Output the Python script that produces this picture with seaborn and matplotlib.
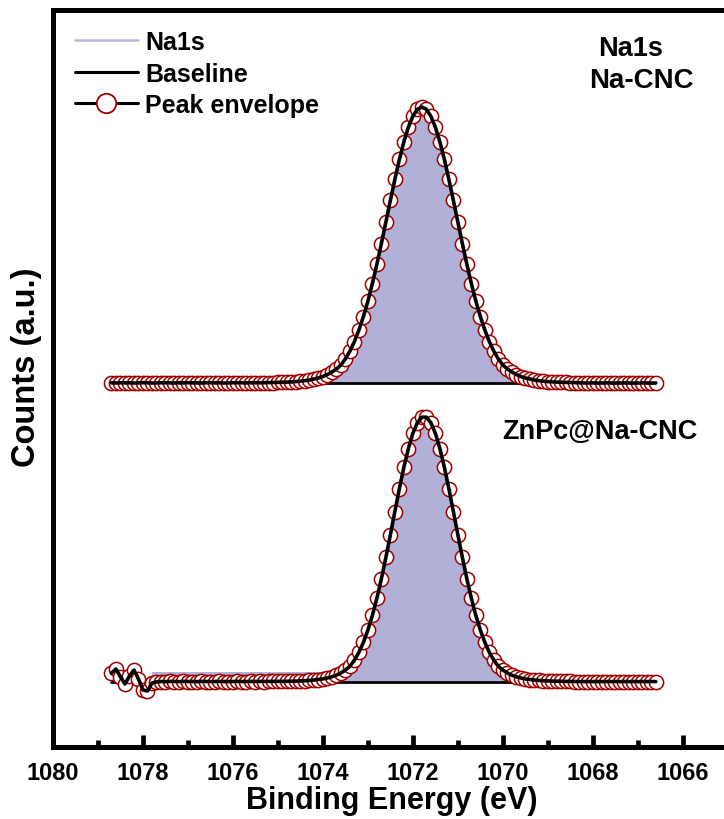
import matplotlib
matplotlib.use("Agg")
import matplotlib.pyplot as plt
from matplotlib.lines import Line2D
import seaborn as sns
import numpy as np
import pandas as pd

# ---------------- data ----------------
energy = [1078.7, 1078.6, 1078.5, 1078.4, 1078.3, 1078.2, 1078.1, 1078.0, 1077.9, 1077.8,
          1077.7, 1077.6, 1077.5, 1077.4, 1077.3, 1077.2, 1077.1, 1077.0, 1076.9, 1076.8,
          1076.7, 1076.6, 1076.5, 1076.4, 1076.3, 1076.2, 1076.1, 1076.0, 1075.9, 1075.8,
          1075.7, 1075.6, 1075.5, 1075.4, 1075.3, 1075.2, 1075.1, 1075.0, 1074.9, 1074.8,
          1074.7, 1074.6, 1074.5, 1074.4, 1074.3, 1074.2, 1074.1, 1074.0, 1073.9, 1073.8,
          1073.7, 1073.6, 1073.5, 1073.4, 1073.3, 1073.2, 1073.1, 1073.0, 1072.9, 1072.8,
          1072.7, 1072.6, 1072.5, 1072.4, 1072.3, 1072.2, 1072.1, 1072.0, 1071.9, 1071.8,
          1071.7, 1071.6, 1071.5, 1071.4, 1071.3, 1071.2, 1071.1, 1071.0, 1070.9, 1070.8,
          1070.7, 1070.6, 1070.5, 1070.4, 1070.3, 1070.2, 1070.1, 1070.0, 1069.9, 1069.8,
          1069.7, 1069.6, 1069.5, 1069.4, 1069.3, 1069.2, 1069.1, 1069.0, 1068.9, 1068.8,
          1068.7, 1068.6, 1068.5, 1068.4, 1068.3, 1068.2, 1068.1, 1068.0, 1067.9, 1067.8,
          1067.7, 1067.6, 1067.5, 1067.4, 1067.3, 1067.2, 1067.1, 1067.0, 1066.9, 1066.8,
          1066.7, 1066.6]

# Na-CNC (upper spectrum, stacked, a.u.)
na_cnc = [364.2, 364.0, 364.3, 364.1, 364.2, 364.0, 364.1, 364.3, 364.2, 364.0,
          364.1, 364.2, 364.3, 364.1, 364.0, 364.2, 364.1, 364.3, 364.2, 364.1,
          364.0, 364.2, 364.3, 364.1, 364.2, 364.0, 364.1, 364.2, 364.3, 364.2,
          364.1, 364.2, 364.3, 364.2, 364.3,
          364.4, 364.5, 364.6, 364.75, 364.9, 365.1, 365.4, 365.8, 366.3, 367.0,
          368.0, 369.0, 370.5, 372.5, 375.0, 378.0, 382.0, 388.1, 395.8, 405.4,
          416.9, 430.4, 445.9, 463.5, 482.8, 503.4, 524.9, 546.6, 567.7, 587.6,
          605.2, 619.8, 630.8, 637.7, 640.0,
          637.7, 630.8, 619.8, 605.2, 587.6, 567.7, 546.6, 524.9, 503.4, 482.8,
          463.5, 445.9, 430.4, 416.9, 405.4, 395.8, 388.1, 382.0, 378.0, 375.0,
          372.5, 370.5, 369.0, 368.0, 367.0, 366.3, 365.8, 365.4, 365.1, 364.9,
          364.75, 364.6, 364.5, 364.4,
          364.2, 364.1, 364.0, 364.1, 363.9, 364.0, 364.1, 364.0, 363.9, 364.0,
          364.1, 364.0, 363.9, 364.0, 364.1, 364.0, 363.9, 364.0]
na_cnc_base = 364.0

# ZnPc@Na-CNC (lower spectrum)
znpc = [74.0, 78.0, 70.0, 63.0, 71.0, 77.0, 68.0, 57.0, 56.0, 64.0, 65.0,
        65.5, 65.4, 65.6, 65.5, 65.4, 65.6, 65.5, 65.5, 65.4, 65.6,
        65.5, 65.4, 65.5, 65.6, 65.5, 65.4, 65.5, 65.6, 65.5, 65.5,
        65.6, 65.5, 65.6, 65.5, 65.6, 65.6, 65.7, 65.6, 65.7, 65.8, 65.9,
        66.1, 66.3, 66.6, 67.0, 67.5, 68.1, 69.0, 70.2, 71.8, 74.0,
        77.0, 80.7, 86.8, 94.6, 104.6, 116.9, 131.6, 148.8, 168.2, 189.6,
        212.3, 235.5, 258.4, 279.7, 298.5, 313.7, 324.3, 329.8,
        329.8, 324.3, 313.7, 298.5, 279.7, 258.4, 235.5, 212.3, 189.6, 168.2,
        148.8, 131.6, 116.9, 104.6, 94.6, 86.8, 80.7, 77.0, 74.0, 71.8,
        70.2, 69.0, 68.1, 67.5, 67.0, 66.6, 66.3, 66.1,
        65.9, 65.8, 65.7, 65.6, 65.6, 65.5, 65.5, 65.4, 65.5, 65.4,
        65.5, 65.4, 65.5, 65.4, 65.5, 65.4, 65.5, 65.4, 65.5, 65.4,
        65.5, 65.4, 65.5, 65.4]
znpc_base = 65.5
# Na1s component level over the left background of the lower spectrum
znpc_comp_left = 75.5
znpc_comp_range = (1077.85, 1073.9)

fit_window = (1074.8, 1068.6)   # region of the Na1s component fill

xticks_major = [1080, 1078, 1076, 1074, 1072, 1070, 1068, 1066]
xticks_minor = [1079, 1077, 1075, 1073, 1071, 1069, 1067, 1065]
legend_labels = ["Na1s", "Baseline", "Peak envelope"]

# ---------------- styling ----------------
sns.set_theme(style="white")
plt.rcParams["font.family"] = ["Liberation Sans", "DejaVu Sans"]
plt.rcParams["font.weight"] = "bold"
plt.rcParams["text.color"] = "black"
plt.rcParams["axes.labelcolor"] = "black"
plt.rcParams["xtick.color"] = "black"
plt.rcParams["xtick.labelcolor"] = "black"

fill_color = "#b1b1d8"
legend_fill_color = "#b8b8de"
marker_edge = "#9e0000"

W, H = 724, 820
fig = plt.figure(figsize=(W / 100, H / 100), dpi=100)
ax = fig.add_axes([53 / W, (H - 748) / H, 677 / W, 737 / H])

df = pd.DataFrame({"energy": energy, "na_cnc": na_cnc, "znpc": znpc})
E = df["energy"].to_numpy()
mask = (E <= fit_window[0]) & (E >= fit_window[1])

# thin component strip above the lower spectrum's left background
left_mask = (E <= znpc_comp_range[0]) & (E >= znpc_comp_range[1])
ax.fill_between(E, znpc_base, znpc_comp_left, where=left_mask,
                color=fill_color, lw=0, zorder=1)

for col, base in (("na_cnc", na_cnc_base), ("znpc", znpc_base)):
    y = df[col].to_numpy()
    ax.fill_between(E, y, base, where=mask, color=fill_color, lw=0, zorder=1)
    sns.lineplot(x=[energy[0], energy[-1]], y=[base, base], ax=ax, color="black",
                 lw=2, zorder=2, sort=False)
    sns.scatterplot(data=df, x="energy", y=col, ax=ax, marker="o", s=105,
                    facecolor="white", edgecolor=marker_edge, linewidth=1.1,
                    zorder=3, legend=False)
    sns.lineplot(data=df, x="energy", y=col, ax=ax, color="black", lw=2.6,
                 zorder=4, sort=False, legend=False)

ax.set_xlim(1080, 1064.95)
ax.set_ylim(0, 737)
ax.set_xticks(xticks_major)
ax.set_xticks(xticks_minor, minor=True)
ax.set_yticks([])
ax.tick_params(axis="x", which="major", direction="in", length=8.5, width=3.4,
               color="black", labelcolor="black", labelsize=17, pad=10,
               bottom=True)
ax.tick_params(axis="x", which="minor", direction="in", length=5, width=3.4,
               color="black", bottom=True)
for lab in ax.get_xticklabels():
    lab.set_fontweight("bold")
for sp in ax.spines.values():
    sp.set_linewidth(3.6)
    sp.set_color("black")

ax.set_xlabel("Binding Energy (eV)", fontsize=22, fontweight="bold", labelpad=1,
              color="black")
ax.set_ylabel("Counts (a.u.)", fontsize=23.5, fontweight="bold", color="black")
ax.yaxis.set_label_coords(-(53 - 42) / 677, (748 - 367) / 737)

handles = [
    Line2D([], [], color=legend_fill_color, lw=1.8),
    Line2D([], [], color="black", lw=2.2),
    Line2D([], [], color="black", lw=2.2, marker="o", ms=14, mfc="white",
           mec=marker_edge, mew=1.3),
]
leg = ax.legend(handles, legend_labels, loc="upper left",
                bbox_to_anchor=(75 / W, 1 - 31 / H), bbox_transform=fig.transFigure,
                frameon=False, borderpad=0, borderaxespad=0, handlelength=2.5,
                handletextpad=0.3, labelspacing=0.3,
                prop={"size": 18, "weight": "bold"})
for t in leg.get_texts():
    t.set_color("black")

fig.text(631 / W, 1 - 49 / H, "Na1s", ha="center", va="center",
         fontsize=19.5, fontweight="bold", color="black")
fig.text(641 / W, 1 - 81 / H, "Na-CNC", ha="center", va="center",
         fontsize=20, fontweight="bold", color="black")
fig.text(600 / W, 1 - 432 / H, "ZnPc@Na-CNC", ha="center", va="center",
         fontsize=19.5, fontweight="bold", color="black")

fig.savefig("out.png", dpi=100)
